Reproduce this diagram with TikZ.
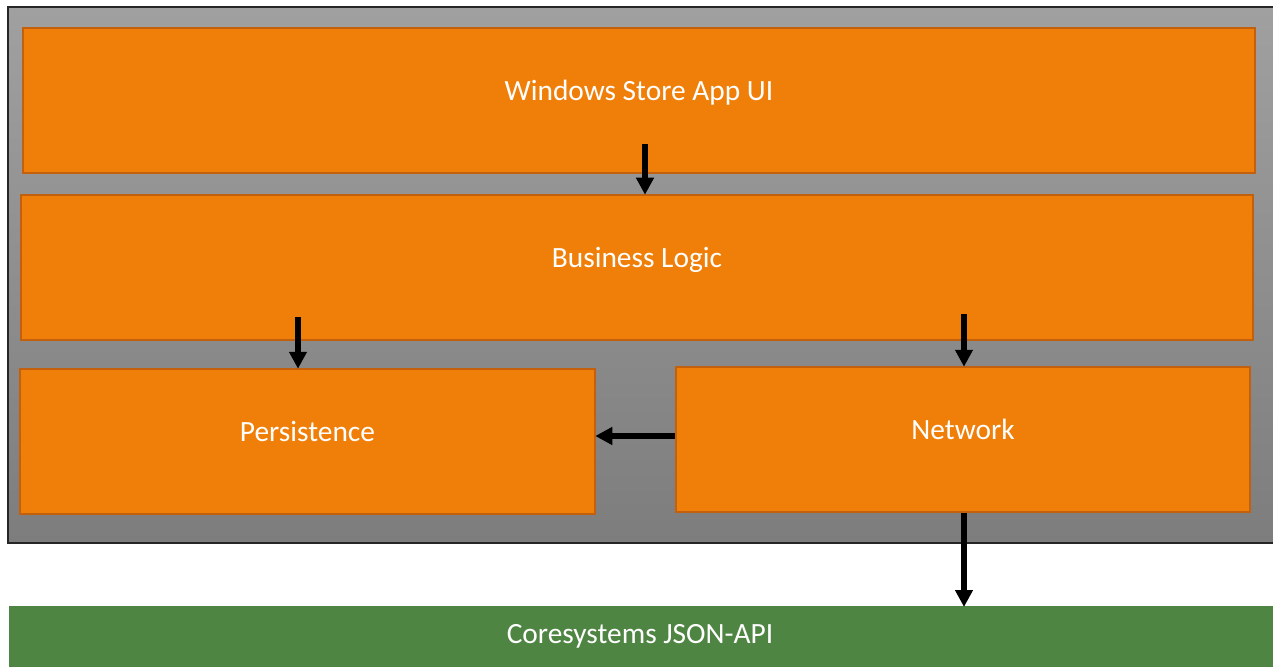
\documentclass[tikz,border=0pt]{standalone}
\usepackage{fontspec}
\setmainfont{Carlito}
\usetikzlibrary{arrows.meta}
\definecolor{orng}{HTML}{F07F09}
\definecolor{orngdk}{HTML}{C2600E}
\definecolor{grntop}{HTML}{4F8543}
\definecolor{grytop}{HTML}{A0A0A0}
\definecolor{grybot}{HTML}{7D7D7D}
\tikzset{
  lbl/.style={font=\fontsize{29.5}{32}\selectfont},
  layer/.style={draw=orngdk, line width=2.5bp, fill=orng, text=white, inner sep=0pt,
    lbl, text height=14bp, text depth=14bp},
  arr/.style={line width=5.5bp, -{Triangle[width=17bp,length=17bp]}, shorten >=-1bp},
}
\begin{document}
\begin{tikzpicture}[x=1bp,y=-1bp]
\useasboundingbox (0,0) rectangle (1273,667);
\fill[white] (0,0) rectangle (1273,667);
\draw[line width=1.2bp, draw=black!85, top color=grytop, bottom color=grybot] (8,7) rectangle (1290,543);
\node[layer, minimum width=1232bp, minimum height=145bp] (ui) at (639,100.5) {Windows Store App UI};
\node[layer, minimum width=1232bp, minimum height=145bp] (bl) at (637,267.5) {Business Logic};
\node[layer, minimum width=575bp, minimum height=145bp] (pers) at (307.5,441.5) {Persistence};
\node[layer, minimum width=574bp, minimum height=145bp] (net) at (963,439.5) {Network};
\node[fill=grntop, draw=none, minimum width=1280bp, minimum height=62bp, inner sep=0pt, anchor=north west] (api) at (9,606) {};
\node[text=white, lbl, inner sep=0pt] (apitxt) at (640,636) {Coresystems JSON-API};
\coordinate (a1) at (645,144);
\coordinate (a2) at (298,317);
\coordinate (a3) at (964,314);
\draw[arr] (a1) -- (a1 |- bl.north);
\draw[arr] (a2) -- (a2 |- pers.north);
\draw[arr] (a3) -- (a3 |- net.north);
\draw[arr] (net.west |- 0,436) -- (pers.east |- 0,436);
\draw[arr] (net.south -| a3) -- (a3 |- api.north);
\end{tikzpicture}
\end{document}
